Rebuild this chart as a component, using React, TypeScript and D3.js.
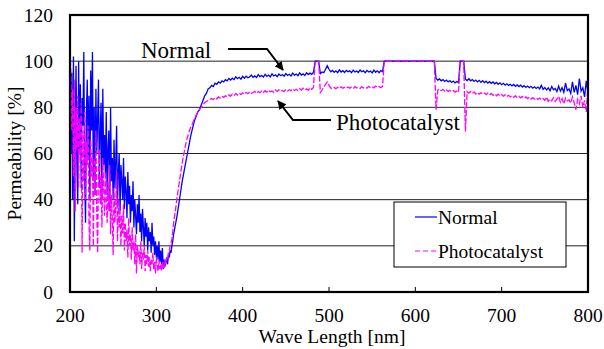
import React from 'react';
import * as d3 from 'd3';

const xTicks = [200, 300, 400, 500, 600, 700, 800];
const yTicks = [0, 20, 40, 60, 80, 100, 120];
const gridValues = [20, 40, 60, 80, 100];
const seriesNames = ['Normal', 'Photocatalyst'];
const seriesColors = ['#0000FF', '#FF00FF'];

// 200..320 nm, 1 nm step
const normalNoisy = [
  88, 60, 95, 40, 102, 22, 70, 98, 55, 38, 100,
  62, 90, 45, 84, 72, 104, 50, 30, 78, 92,
  58, 85, 40, 96, 70, 104, 48, 80, 42, 88,
  60, 75, 92, 45, 70, 82, 40, 88, 55, 68,
  50, 78, 42, 62, 70, 35, 80, 48, 58, 40,
  66, 45, 56, 72, 38, 52, 60, 35, 55, 48,
  40, 58, 36, 50, 44, 32, 52, 38, 46, 30,
  42, 35, 48, 28, 40, 33, 25, 38, 30, 42,
  26, 34, 22, 36, 28, 20, 32, 24, 30, 18,
  28, 22, 26, 17, 30, 20, 24, 16, 22, 15,
  20, 14, 22, 13, 18, 12, 19, 10, 14, 11,
  13, 15, 12, 16, 15, 18, 17, 20, 22, 25,
];
const photoNoisy = [
  104, 95, 70, 88, 50, 92, 35, 80, 62, 85, 45,
  75, 58, 82, 17, 70, 48, 78, 40, 65, 55,
  72, 30, 18, 66, 50, 60, 20, 58, 42, 70,
  35, 17, 55, 62, 38, 50, 28, 58, 45, 33,
  52, 40, 30, 48, 35, 55, 25, 42, 32, 16,
  45, 30, 38, 52, 22, 40, 28, 35, 20, 33,
  25, 38, 18, 30, 22, 27, 15, 32, 20, 25,
  14, 28, 18, 22, 12, 25, 8, 20, 15, 18,
  12, 22, 10, 17, 14, 20, 9, 16, 12, 18,
  11, 15, 9, 14, 12, 17, 10, 13, 8, 15,
  11, 9, 14, 10, 12, 9, 13, 11, 10, 14,
  12, 15, 14, 17, 18, 20, 21, 23, 26, 30,
];
// 322..800 nm, 2 nm step
const normalMain = [
  29, 33, 38, 43, 48, 52, 56, 60, 64, 68,
  71, 74, 76, 78, 79, 81, 83, 85, 86, 88,
  88.5, 89.5, 89, 90.5, 90, 91, 90.5, 91.5, 91, 92,
  91.5, 92.5, 91.8, 92.6, 92, 93.2, 92.4, 93, 92.2, 93.4,
  92.6, 93.5, 92.8, 93.2, 94, 93, 93.6, 92.9, 94.2, 93.3,
  93.8, 93.1, 94.3, 93.4, 94, 93.2, 94.5, 93.6, 94.1, 93.3,
  94.4, 93.7, 94.2, 93.5, 94.6, 93.8, 94.3, 93.6, 94.8, 93.9,
  94.4, 93.7, 94.9, 94, 94.5, 93.8, 95, 94.2, 94.8, 94.3,
  95.2, 100, 100, 100, 94.6, 95.3, 95, 96.5, 98, 96.5,
  95.4, 96, 95.2, 95.8, 95, 96.2, 95.3, 95.9, 95.1, 96,
  95.4, 95.8, 95, 96.1, 95.3, 95.7, 95.1, 96.2, 95.4, 95.8,
  95, 96, 95.3, 95.7, 94.9, 96.1, 95.2, 95.8, 95, 95.9,
  95.5, 100, 100, 100, 100, 100, 100, 100, 100, 100,
  100, 100, 100, 100, 100, 100, 100, 100, 100, 100,
  100, 100, 100, 100, 100, 100, 100, 100, 100, 100,
  100, 92.5, 91.8, 92.3, 91.5, 92, 91.2, 91.8, 91, 91.6,
  90.8, 91.4, 90.6, 91.2, 90.7, 100, 100, 100, 92.2, 91.6,
  92.4, 91.5, 92, 91.2, 91.8, 91, 91.7, 90.8, 91.5, 90.7,
  91.3, 90.5, 91.1, 90.4, 91, 90.2, 90.8, 90, 90.6, 89.8,
  90.4, 89.6, 90.2, 89.5, 90, 89.3, 89.9, 89.1, 89.7, 89,
  89.6, 88.8, 89.4, 88.6, 89.2, 88.5, 89.1, 88.3, 88.9, 88.2,
  88.8, 88, 89.5, 87.8, 88.6, 87.5, 88.4, 87.2, 89, 87.6,
  88.2, 86.8, 89.2, 87, 88.5, 86.5, 90.5, 87.2, 88, 86,
  91, 86.5, 89.5, 85.5, 92.5, 87, 88.5, 84.5, 91.5, 86,
];
const photoMain = [
  35, 41, 46, 51, 56, 60, 64, 67, 69.5, 71.5,
  73, 75, 76.5, 78, 79, 80, 81, 82, 82.5, 83,
  83.4, 83.8, 83.3, 84.2, 83.7, 84.5, 84, 84.8, 84.3, 85,
  84.6, 85.4, 84.8, 85.7, 85.1, 86, 85.3, 86.2, 85.5, 86.3,
  85.7, 86.5, 85.9, 86.7, 86, 86.4, 86.9, 86.1, 86.8, 86.3,
  87, 86.4, 87.2, 86.6, 87.4, 86.8, 87.1, 86.5, 87.5, 86.9,
  87.6, 87, 87.3, 86.8, 87.8, 87.1, 87.6, 87.2, 88, 87.3,
  87.8, 87.2, 88.1, 87.5, 88.3, 87.6, 88, 87.4, 88.5, 87.8,
  88.6, 100, 100, 100, 86.4, 87.5, 88.8, 90, 91, 89.5,
  88.4, 88, 88.6, 88.1, 88.7, 88.2, 88.9, 88.3, 88.6, 88.2,
  88.8, 88.3, 88.7, 88.1, 89, 88.4, 88.7, 88.2, 88.9, 88.4,
  88.8, 88.3, 89.1, 88.5, 88.9, 88.4, 89.2, 88.6, 89, 88.5,
  89.1, 100, 100, 100, 100, 100, 100, 100, 100, 100,
  100, 100, 100, 100, 100, 100, 100, 100, 100, 100,
  100, 100, 100, 100, 100, 100, 100, 100, 100, 100,
  100, 79, 87.5, 88, 87.2, 87.8, 87, 87.6, 86.9, 87.4,
  86.8, 87.3, 86.6, 87.1, 86.5, 100, 100, 100, 69.5, 86.8,
  86.2, 86.9, 86, 86.7, 85.8, 86.5, 85.7, 86.4, 85.6, 86.2,
  85.5, 86.1, 85.3, 86, 85.2, 85.8, 85, 85.7, 84.9, 85.5,
  84.8, 85.4, 84.6, 85.2, 84.5, 85.1, 84.3, 85, 84.2, 84.8,
  84.1, 84.7, 83.9, 84.5, 83.8, 84.4, 83.6, 84.2, 83.5, 84.1,
  83.4, 84, 83.2, 83.8, 83, 84.5, 82.6, 83.6, 82.8, 84.2,
  82.5, 83.5, 84.8, 82.2, 83.8, 81.5, 84, 82.8, 83.2, 81.8,
  84.5, 82, 79, 83.5, 81.5, 85, 80, 83, 78, 90,
];

const W = 604;
const H = 349;
const P = { left: 70, right: 588, top: 15, bottom: 292 };
const FONT = '"Liberation Serif", "Times New Roman", serif';

type Pt = [number, number];

function toPoints(noisy: number[], main: number[]): Pt[] {
  const a: Pt[] = noisy.map((v, i) => [200 + i, v]);
  const b: Pt[] = main.map((v, i) => [322 + 2 * i, v]);
  return a.concat(b);
}

export default function App() {
  const x = d3.scaleLinear().domain([200, 800]).range([P.left, P.right]);
  const y = d3.scaleLinear().domain([0, 120]).range([P.bottom, P.top]);
  const line = d3
    .line<Pt>()
    .x((d) => x(d[0]))
    .y((d) => y(d[1]));
  const normalPath = line(toPoints(normalNoisy, normalMain)) || '';
  const photoPath = line(toPoints(photoNoisy, photoMain)) || '';

  return (
    <svg
      width={W}
      height={H}
      style={{ position: 'absolute', left: 0, top: 0, background: '#fff' }}
      fontFamily={FONT}
    >
      <defs>
        <clipPath id="plotclip">
          <rect x={P.left} y={P.top} width={P.right - P.left} height={P.bottom - P.top} />
        </clipPath>
        <marker
          id="arrow"
          viewBox="0 0 10 10"
          refX={9}
          refY={5}
          markerWidth={9}
          markerHeight={9}
          markerUnits="userSpaceOnUse"
          orient="auto"
        >
          <path d="M0,0 L10,5 L0,10 z" fill="#000" />
        </marker>
      </defs>
      <rect x={0} y={0} width={W} height={H} fill="#fff" />
      {gridValues.map((v) => (
        <line key={v} x1={P.left} x2={P.right} y1={y(v)} y2={y(v)} stroke="#222" strokeWidth={1} />
      ))}
      <g clipPath="url(#plotclip)">
        <path d={normalPath} fill="none" stroke={seriesColors[0]} strokeWidth={1.3} />
        <path
          d={photoPath}
          fill="none"
          stroke={seriesColors[1]}
          strokeWidth={1.3}
          strokeDasharray="6,2"
        />
      </g>
      {xTicks.slice(1, -1).map((t) => (
        <line key={t} x1={x(t)} x2={x(t)} y1={P.bottom} y2={P.bottom - 5} stroke="#000" strokeWidth={1} />
      ))}
      <rect
        x={P.left}
        y={P.top}
        width={P.right - P.left}
        height={P.bottom - P.top}
        fill="none"
        stroke="#000"
        strokeWidth={2.2}
      />
      {yTicks.map((t) => (
        <text key={t} x={53} y={y(t) + 6.5} textAnchor="end" fontSize={19.5} fill="#000">
          {t}
        </text>
      ))}
      {xTicks.map((t) => (
        <text key={t} x={x(t)} y={322} textAnchor="middle" fontSize={19.5} fill="#000">
          {t}
        </text>
      ))}
      <text x={332} y={343} textAnchor="middle" fontSize={19.5} fill="#000">
        Wave Length [nm]
      </text>
      <text
        transform={`translate(21,${(P.top + P.bottom) / 2}) rotate(-90)`}
        textAnchor="middle"
        fontSize={19.5}
        fill="#000"
      >
        Permeability [%]
      </text>
      {/* Annotations */}
      <text x={141} y={58} fontSize={23} fill="#000">
        Normal
      </text>
      <polyline
        points="228,49 267,49 283,70"
        fill="none"
        stroke="#000"
        strokeWidth={2}
        markerEnd="url(#arrow)"
      />
      <text x={336} y={130} fontSize={23} fill="#000">
        Photocatalyst
      </text>
      <polyline
        points="331,120 293,120 278,101"
        fill="none"
        stroke="#000"
        strokeWidth={2}
        markerEnd="url(#arrow)"
      />
      {/* Legend */}
      <rect x={394} y={202} width={172} height={65} fill="#fff" stroke="#000" strokeWidth={1} />
      {seriesNames.map((n, i) => (
        <g key={n}>
          <line
            x1={415}
            x2={437}
            y1={217 + i * 34}
            y2={217 + i * 34}
            stroke={seriesColors[i]}
            strokeWidth={1.2}
            strokeDasharray={i === 1 ? '5,3' : undefined}
          />
          <text x={438} y={217 + i * 34 + 6.5} fontSize={19.5} fill="#000">
            {n}
          </text>
        </g>
      ))}
    </svg>
  );
}
